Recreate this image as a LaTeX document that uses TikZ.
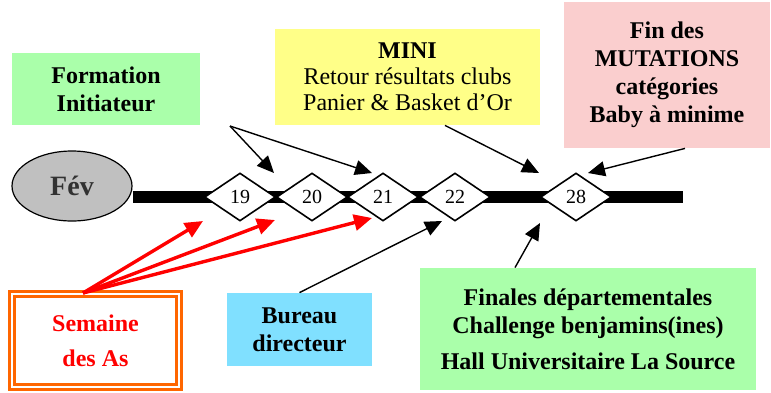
\documentclass[tikz,border=0pt]{standalone}
\usepackage{fontspec}
\setmainfont{Liberation Serif}
\usetikzlibrary{shapes.geometric,arrows.meta}
\definecolor{vertclair}{RGB}{170,255,170}
\definecolor{jaune}{RGB}{255,255,136}
\definecolor{cyan2}{RGB}{128,224,255}
\definecolor{rose}{RGB}{250,206,206}
\definecolor{orange2}{RGB}{255,102,0}
\definecolor{gris}{RGB}{192,192,192}
\definecolor{grisfonce}{RGB}{50,50,50}
\begin{document}
\begin{tikzpicture}[x=0.5pt,y=-0.5pt]
  \tikzstyle{box}=[rectangle,inner sep=0,align=center,font=\fontsize{12}{14}\selectfont\bfseries]
  \tikzstyle{jour}=[diamond,draw,fill=white,line width=0.8pt,inner sep=0,minimum width=35.5pt,minimum height=24pt,font=\fontsize{10}{12}\selectfont]
  \tikzstyle{fl}=[-{Triangle[length=8.5pt,width=7.5pt]},line width=0.7pt]
  \tikzstyle{flr}=[-{Triangle[length=9pt,width=8pt]},line width=1.7pt,red]
  \useasboundingbox (0,0) rectangle (771,392);

  % la ligne du mois
  \node[ellipse,draw,fill=gris,line width=0.6pt,minimum width=60pt,minimum height=35pt,
        font=\fontsize{14}{16}\selectfont\bfseries,text=grisfonce] (fev) at (72,186) {Fév};
  \coordinate (fin) at (683,197);
  \draw[line width=6pt] (fev.east |- fin) -- (fin);
  \node[jour] (d19) at (240,197) {19};
  \node[jour] (d20) at (312,197) {20};
  \node[jour] (d21) at (383,197) {21};
  \node[jour] (d22) at (455,197) {22};
  \node[jour] (d28) at (576,197) {28};

  % les cadres
  \node[box,fill=vertclair,minimum width=94pt,minimum height=36pt] (form) at (106,89)
    {Formation\\Initiateur};
  \node[box,fill=jaune,minimum width=132.5pt,minimum height=48pt,font=\fontsize{12}{13}\selectfont] (mini) at (407.5,77)
    {\textbf{MINI}\\Retour résultats clubs\\Panier \& Basket d’Or};
  \node[box,fill=rose,minimum width=103pt,minimum height=73pt] (mut) at (667,75)
    {Fin des\\MUTATIONS\\catégories\\Baby à minime};
  \node[box,draw=orange2,double=white,double distance=1pt,line width=1.5pt,fill=white,
        minimum width=83.5pt,minimum height=46.5pt,text=red] (sem) at (95.5,340.5)
    {Semaine\\[3.5pt]des As};
  \node[box,fill=cyan2,minimum width=72.5pt,minimum height=36.5pt] (bur) at (299.5,329.5)
    {Bureau\\directeur};
  \node[box,fill=vertclair,minimum width=168pt,minimum height=61pt] (fina) at (588,329)
    {Finales départementales\\Challenge benjamins(ines)\\[4pt]Hall Universitaire La Source};

  % les fleches
  \coordinate (sf) at (230,126);
  \coordinate (ss) at (83,293);
  \coordinate (t19) at (203,221);
  \coordinate (t20) at (275,220);
  \coordinate (t21) at (372,218);
  \coordinate (h20) at (274,173);
  \coordinate (h21) at (372,173);
  \coordinate (h28a) at (539,173);
  \coordinate (h28b) at (588,173);
  \coordinate (b22) at (442,221);
  \coordinate (b28) at (540,223);
  \draw[fl] (sf) -- (h20);
  \draw[fl] (sf) -- (h21);
  \draw[fl] (mini.south -| 445,0) -- (h28a);
  \draw[fl] (mut.south -| 685,0) -- (h28b);
  \draw[fl] (bur.north) -- (b22);
  \draw[fl] (fina.north -| 515,0) -- (b28);
  \draw[flr] (ss) -- (t19);
  \draw[flr] (ss) -- (t20);
  \draw[flr] (ss) -- (t21);
\end{tikzpicture}
\end{document}
